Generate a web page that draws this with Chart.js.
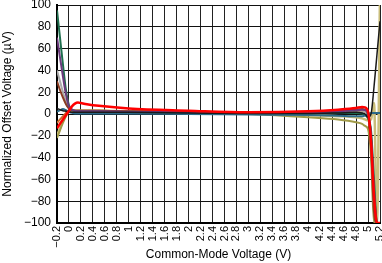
<!DOCTYPE html>
<html>
<head>
<meta charset="utf-8">
<script src="https://cdn.jsdelivr.net/npm/chart.js@4/dist/chart.umd.min.js"></script>
<style>
  html, body { margin: 0; padding: 0; background: #fff; }
  #chart { display: block; }
</style>
</head>
<body>
<canvas id="chart" width="382" height="263"></canvas>
<script>
// common-mode voltage (V), shared by all curves
const vcm = [-0.2, -0.15, -0.1, -0.05, 0, 0.05, 0.1, 0.15, 0.2, 0.3, 0.5, 1, 2, 3, 4, 4.5, 4.8, 4.9, 4.95, 5, 5.05, 5.1, 5.15, 5.2];

// normalized offset voltage (uV) per unit
const unitRed    = [-13, -9, -5, -1, 3, 7, 9.5, 10.5, 10, 9, 7.5, 5, 3, 1.5, 2.5, 4, 5.5, 6.5, 6, 2, -25, -75, -100, -100];
const unitGreen  = [95, 70, 45, 22, 8, 4, 2.5, 2, 2, 2, 2, 1.5, 1.2, 1, 1, 1, 1, 0.5, -1, -4, -15, -60, -100, -100];
const unitPurple = [70, 52, 34, 18, 7, 4, 3, 2.5, 2.5, 2.5, 2.5, 2, 1.5, 1.2, 1.5, 2.5, 3.5, 4, 3.5, 0, -20, -70, -100, -100];
const unitGray   = [40, 30, 20, 11, 5, 3.5, 3, 2.5, 2.5, 2.5, 2.5, 2, 1.5, 1, 1.5, 2.5, 3, 3, 2, -2, -25, -85, -100, -100];
const unitBrown  = [30, 22, 15, 9, 5, 3.5, 3, 3, 3, 3, 3, 2.5, 2, 1.5, 2, 3, 4, 4.5, 4, 0, -30, -90, -100, -100];
const unitBlue   = [2, 3.5, 4.5, 3.5, 2, 1, 0.5, 0.5, 0.5, 0.5, 0.5, 0.5, 0, -0.5, -1, -1.5, -2, -2, -1.5, 0, 1, 1, 1, 1];
const unitBlack  = [5, 4, 3, 2.5, 2, 1.5, 1.5, 1.5, 1.5, 1.5, 1.5, 1.5, 1, 0.5, 0.5, 1, 1.5, 1, 0, -3, 0, 25, 55, 85];
const unitOrange = [-8, -5, -2, 1, 3, 3, 3, 3, 3, 3, 3, 2.5, 2, 1.5, 1.5, 2, 3, 3, 2, -2, -25, -80, -100, -100];
const unitOlive  = [-22, -15, -8, -2, 2, 3, 3, 3, 3, 3, 3, 2.5, 1.5, 0, -3, -5, -7.5, -9, -11, -14, -40, -100, -100, -100];
const unitKhaki  = [-20, -13, -6, 0, 3, 3, 3, 3, 3, 3, 3, 2.5, 1.5, 0.5, -1, -2, -3, -4, -5, -6, -5, 10, -100, 110];

const xTicks = { min: -0.2, max: 5.2, step: 0.2 };
const yTicks = { min: -100, max: 100, step: 20 };

const series = [
    { data: unitRed, color: "#ff0000", width: 2.5 },
    { data: unitBlack, color: "#1a1a1a", width: 1.5 },
    { data: unitBlue, color: "#2b6a8a", width: 2 },
    { data: unitPurple, color: "#6b3a7c", width: 2 },
    { data: unitGreen, color: "#1f6e4e", width: 2 },
    { data: unitBrown, color: "#8a3c22", width: 2 },
    { data: unitGray, color: "#a9a9a9", width: 2 },
    { data: unitOrange, color: "#c86a2a", width: 2 },
    { data: unitOlive, color: "#a09a48", width: 2 },
    { data: unitKhaki, color: "#c9bd7a", width: 2.5 }
];

const minus = s => String(s).replace("-", "\u2212");
const font = { family: "'Liberation Sans', Arial, sans-serif", size: 12 };

new Chart(document.getElementById("chart"), {
    type: "line",
    data: {
        datasets: series.map(s => ({
            data: vcm.map((x, i) => ({ x: x, y: s.data[i] })),
            borderColor: s.color,
            borderWidth: s.width,
            pointRadius: 0,
            cubicInterpolationMode: "monotone",
            fill: false
        }))
    },
    options: {
        responsive: false,
        animation: false,
        devicePixelRatio: 1,
        layout: { padding: { top: 5, right: 2, left: 0, bottom: 0 } },
        plugins: { legend: { display: false }, tooltip: { enabled: false } },
        scales: {
            x: {
                type: "linear",
                min: xTicks.min,
                max: xTicks.max,
                afterFit: scale => {
                    scale.height = 40;
                    scale.paddingLeft = 0;
                    scale.paddingRight = 0;
                },
                border: { color: "#000", width: 2 },
                grid: { color: "#222", lineWidth: 1, drawTicks: false },
                ticks: {
                    stepSize: xTicks.step,
                    autoSkip: false,
                    minRotation: 90,
                    maxRotation: 90,
                    padding: 3,
                    color: "#000",
                    font: { family: font.family, size: 11 },
                    callback: v => minus(Math.round(v * 10) / 10)
                },
                title: {
                    display: true,
                    text: "Common-Mode Voltage (V)",
                    color: "#000",
                    font: font,
                    padding: { top: 0, bottom: 1 }
                }
            },
            y: {
                min: yTicks.min,
                max: yTicks.max,
                afterFit: scale => {
                    scale.width = 57;
                    scale.paddingTop = 0;
                    scale.paddingBottom = 0;
                },
                border: { color: "#000", width: 2 },
                grid: { color: "#111", lineWidth: 1, drawTicks: false },
                ticks: {
                    stepSize: yTicks.step,
                    padding: 6,
                    color: "#000",
                    font: font,
                    callback: v => minus(v)
                },
                title: {
                    display: true,
                    text: "Normalized Offset Voltage (\u00b5V)",
                    color: "#000",
                    font: font,
                    padding: { top: 0, bottom: 0 }
                }
            }
        }
    }
});
</script>
</body>
</html>
